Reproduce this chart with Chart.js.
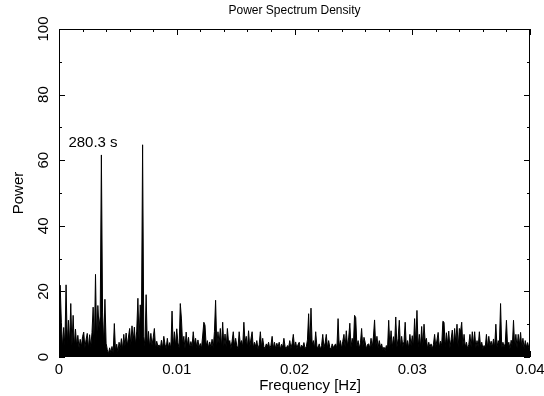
<!DOCTYPE html>
<html>
<head>
<meta charset="utf-8">
<script src="https://cdn.jsdelivr.net/npm/chart.js@4"></script>
<style>
  body { margin: 0; background: #fff; }
  canvas { display: block; }
</style>
</head>
<body>
<canvas id="psdChart" width="544" height="396"></canvas>
<script>
// frequency step of the spectrum, in Hz
const freqStep = 0.0001;

// power per frequency bin (bin i = i * freqStep Hz)
const power = [
  7.0, 21.9, 10.6, 3.0, 9.0, 3.5, 22.0, 4.0, 11.2, 4.2, 16.3, 3.5, 12.7, 3.2, 8.5, 3.4, 6.6, 2.8, 5.4, 3.1,
  6.2, 7.6, 2.9, 5.3, 7.2, 2.7, 6.8, 3.1, 7.4, 15.2, 3.2, 25.2, 4.6, 15.7, 8.9, 12.5, 61.6, 13.7, 3.8, 17.6,
  4.2, 2.3, 1.0, 2.8, 1.4, 3.2, 1.2, 10.2, 1.8, 3.9, 1.5, 4.5, 2.5, 5.6, 2.4, 6.9, 3.3, 7.3, 3.4, 6.1,
  8.7, 3.6, 9.5, 4.8, 9.1, 3.7, 7.9, 17.9, 5.2, 15.9, 9.6, 64.7, 6.3, 3.4, 19.0, 3.5, 7.8, 2.9, 7.2, 3.6,
  5.9, 8.7, 2.6, 4.8, 3.2, 3.7, 2.5, 5.1, 2.7, 6.3, 3.9, 2.6, 5.7, 2.8, 4.4, 2.5, 14.0, 3.1, 7.7, 3.4,
  8.6, 4.3, 2.8, 16.3, 11.6, 3.6, 6.3, 2.6, 7.6, 3.5, 6.0, 2.7, 4.7, 3.2, 7.7, 3.8, 5.7, 2.9, 5.2, 2.9,
  4.1, 2.6, 6.4, 10.6, 9.7, 3.3, 5.0, 2.8, 4.6, 3.0, 5.4, 2.7, 7.7, 17.3, 3.4, 7.7, 4.1, 8.7, 2.9, 10.6,
  3.3, 7.0, 3.0, 8.7, 4.4, 5.0, 2.6, 4.8, 7.7, 3.5, 5.7, 3.4, 2.6, 7.7, 3.9, 5.0, 3.1, 10.6, 4.5, 6.3,
  2.8, 8.0, 3.0, 5.5, 7.7, 2.8, 4.5, 3.2, 5.0, 2.5, 3.7, 7.7, 3.0, 5.7, 3.1, 2.6, 4.0, 3.2, 4.5, 2.5,
  3.6, 6.3, 2.7, 4.5, 2.6, 4.2, 3.0, 4.5, 2.4, 3.9, 3.0, 5.7, 3.2, 2.6, 3.5, 2.9, 5.0, 2.6, 4.2, 6.9,
  2.9, 4.6, 2.6, 3.8, 4.5, 2.5, 3.6, 3.0, 4.4, 2.6, 3.1, 5.2, 13.2, 3.0, 14.9, 3.7, 5.0, 2.7, 7.7, 3.3,
  2.8, 4.0, 2.4, 3.5, 6.9, 2.9, 4.3, 6.9, 2.7, 5.0, 2.9, 2.4, 4.0, 2.8, 3.6, 4.0, 2.6, 11.7, 3.0, 5.0,
  2.6, 4.8, 6.9, 3.0, 8.0, 3.4, 5.8, 10.3, 2.9, 5.7, 3.5, 12.7, 12.0, 3.2, 5.0, 2.6, 4.3, 8.7, 3.0, 6.0,
  4.5, 2.5, 3.8, 4.0, 2.7, 5.7, 2.9, 6.1, 11.3, 3.1, 6.3, 2.8, 5.0, 3.0, 4.0, 2.2, 3.0, 2.0, 3.5, 2.6,
  11.2, 3.0, 8.0, 2.8, 6.2, 3.6, 12.2, 3.0, 5.6, 11.2, 2.8, 6.3, 3.2, 4.7, 10.6, 3.0, 5.0, 2.6, 6.9, 3.4,
  6.5, 3.0, 11.7, 4.1, 14.2, 2.9, 6.9, 3.0, 9.3, 3.2, 10.0, 4.6, 5.7, 2.6, 4.5, 3.0, 4.0, 2.5, 3.9, 6.9,
  3.1, 5.2, 7.5, 2.9, 4.8, 3.5, 10.9, 10.6, 3.0, 7.4, 3.9, 7.9, 2.8, 5.3, 8.2, 3.3, 8.7, 4.4, 10.0, 3.0,
  8.7, 7.7, 10.6, 3.2, 6.9, 3.0, 4.5, 2.6, 3.8, 6.9, 3.0, 7.7, 3.6, 7.7, 2.8, 5.0, 3.1, 7.7, 3.1, 4.5,
  2.6, 3.5, 3.0, 6.9, 2.8, 6.3, 3.4, 4.8, 3.0, 5.5, 3.0, 10.0, 3.0, 5.0, 3.9, 16.3, 2.7, 4.5, 3.0, 4.2,
  11.2, 3.0, 4.5, 2.5, 5.1, 3.3, 11.2, 2.9, 6.9, 2.8, 6.9, 3.7, 7.5, 3.0, 5.7, 2.6, 5.0, 3.0, 4.4, 2.8,
  3.5
];

const frequency = power.map((_, i) => i * freqStep);

// axis ticks
const xMajorTicks = [0, 0.01, 0.02, 0.03, 0.04];
const xTickLabels = ["0", "0.01", "0.02", "0.03", "0.04"];
const yMajorTicks = [0, 20, 40, 60, 80, 100];
const yTickLabels = ["0", "20", "40", "60", "80", "100"];
const xMinorStep = 0.002;
const yMinorStep = 10;

// period label next to the main peak
const peakLabel = "280.3 s";
const peakLabelAt = { x: 0.0008, y: 65.3 };

const FONT = "'Liberation Sans', Arial, Helvetica, sans-serif";

const framePlugin = {
  id: "frame",
  afterDraw(chart) {
    const ctx = chart.ctx;
    const area = chart.chartArea;
    const xs = chart.scales.x;
    const ys = chart.scales.y;

    ctx.save();
    ctx.strokeStyle = "#000";
    ctx.fillStyle = "#000";
    ctx.lineWidth = 1;

    // box
    ctx.strokeRect(area.left + 0.5, area.top + 0.5, area.right - area.left - 1, area.bottom - area.top - 1);

    // inward ticks, top and bottom
    ctx.beginPath();
    for (let k = 0; k <= 20; k++) {
      const v = k * xMinorStep;
      const px = Math.round(xs.getPixelForValue(v)) + 0.5;
      const len = k % 5 === 0 ? 6 : 3;
      ctx.moveTo(px, area.top);
      ctx.lineTo(px, area.top + len);
      ctx.moveTo(px, area.bottom);
      ctx.lineTo(px, area.bottom - len);
    }
    // inward ticks, left and right
    for (let k = 0; k <= 10; k++) {
      const v = k * yMinorStep;
      const py = Math.round(ys.getPixelForValue(v)) + 0.5;
      const len = k % 2 === 0 ? 6 : 3;
      ctx.moveTo(area.left, py);
      ctx.lineTo(area.left + len, py);
      ctx.moveTo(area.right, py);
      ctx.lineTo(area.right - len, py);
    }
    ctx.stroke();

    // x tick labels
    ctx.font = "15px " + FONT;
    ctx.textAlign = "center";
    ctx.textBaseline = "middle";
    xMajorTicks.forEach((v, i) => {
      ctx.fillText(xTickLabels[i], xs.getPixelForValue(v), area.bottom + 13);
    });

    // y tick labels, rotated
    yMajorTicks.forEach((v, i) => {
      ctx.save();
      ctx.translate(area.left - 15, ys.getPixelForValue(v));
      ctx.rotate(-Math.PI / 2);
      ctx.fillText(yTickLabels[i], 0, 0);
      ctx.restore();
    });

    // axis titles
    ctx.fillText("Frequency [Hz]", 310, area.bottom + 29);
    ctx.save();
    ctx.translate(19, (area.top + area.bottom) / 2);
    ctx.rotate(-Math.PI / 2);
    ctx.fillText("Power", 0, 0);
    ctx.restore();

    // title
    ctx.font = "12px " + FONT;
    ctx.fillText("Power Spectrum Density", (area.left + area.right) / 2, 11);

    // peak annotation
    ctx.font = "15px " + FONT;
    ctx.textAlign = "left";
    ctx.fillText(peakLabel, xs.getPixelForValue(peakLabelAt.x), ys.getPixelForValue(peakLabelAt.y));

    ctx.restore();
  },
};

new Chart(document.getElementById("psdChart"), {
  type: "line",
  data: {
    datasets: [
      {
        data: frequency.map((f, i) => ({ x: f, y: power[i] })),
        borderColor: "#000",
        backgroundColor: "#000",
        borderWidth: 1,
        pointRadius: 0,
        tension: 0,
        fill: "origin",
      },
    ],
  },
  options: {
    responsive: false,
    animation: false,
    layout: {
      padding: { left: 59, right: 14, top: 29, bottom: 39 },
    },
    scales: {
      x: { type: "linear", min: 0, max: 0.04, display: false },
      y: { min: 0, max: 100, display: false },
    },
    plugins: {
      legend: { display: false },
      tooltip: { enabled: false },
    },
  },
  plugins: [framePlugin],
});
</script>
</body>
</html>
